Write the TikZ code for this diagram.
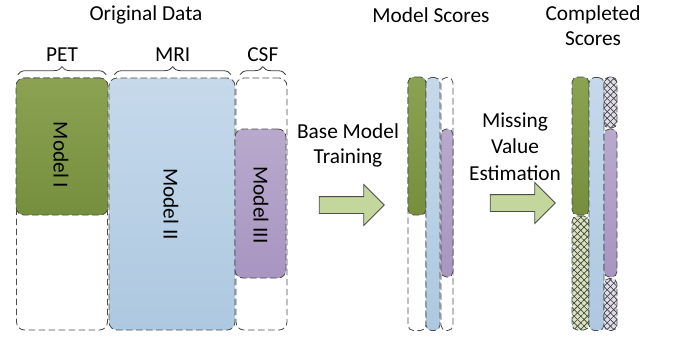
\documentclass[tikz,border=0pt]{standalone}
\usepackage{fontspec}
\setmainfont{Carlito}
\usepackage{tikz}
\usetikzlibrary{decorations.pathreplacing}
\usetikzlibrary{shapes.arrows}
\usetikzlibrary{patterns.meta}
\usetikzlibrary{positioning}

\definecolor{petgreen}{HTML}{8AA251}
\definecolor{petgreendk}{HTML}{768F3E}
\definecolor{mriblue}{HTML}{C6D9EB}
\definecolor{mribluedk}{HTML}{ADC8E0}
\definecolor{csfpurple}{HTML}{B8A9CC}
\definecolor{csfpurpledk}{HTML}{A895C1}
\definecolor{arrowgreen}{HTML}{C3D69B}
\definecolor{hatchgreen}{HTML}{D7E4BD}
\definecolor{hatchpurple}{HTML}{E2DDEB}

\begin{document}
\begin{tikzpicture}[
  x=0.75pt, y=-0.75pt,
  every node/.style={font=\fontsize{16}{19}\selectfont, text=black},
  box/.style={rectangle, rounded corners=6pt, inner sep=0pt, outer sep=0pt,
    draw=black!70, line width=0.6pt, dash pattern=on 5pt off 2.5pt},
  col/.style={box, rounded corners=4pt},
  green/.style={top color=petgreen, bottom color=petgreendk},
  blue/.style={top color=mriblue, bottom color=mribluedk},
  purple/.style={top color=csfpurple, bottom color=csfpurpledk},
  hatch/.style={preaction={fill=#1},
    pattern={Lines[angle=45,distance=3.5pt,line width=0.5pt]}, pattern color=black!75,
    postaction={pattern={Lines[angle=-45,distance=3.5pt,line width=0.5pt]}, pattern color=black!75}},
  blockarrow/.style={single arrow, draw=black!70, fill=arrowgreen, line width=0.6pt,
    inner sep=0pt, text height=12pt, text depth=0pt, minimum height=48.75pt,
    single arrow head extend=9pt},
  brace/.style={draw=black!75, line width=0.6pt, decorate, decoration={brace, amplitude=6pt}}
]
  \useasboundingbox (0,0) rectangle (673,336);

  % original data
  \node (orig) at (146,15) {Original Data};

  \node[box] (pet) at (62,204) [minimum width=68.25pt, minimum height=189pt] {};
  \node[box, green] (m1) at (62,146.5) [minimum width=69pt, minimum height=102.75pt] {};
  \node[rotate=-90] (m1txt) at (61,155) {Model I};

  \node[box] (csf) at (261.5,204) [minimum width=38.25pt, minimum height=189pt] {};
  \node[box, blue] (m2) at (172,204) [minimum width=94.5pt, minimum height=189pt] {};
  \node[rotate=-90] (m2txt) at (171,204) {Model II};
  \node[box, purple] (m3) at (260.5,203.5) [minimum width=38.25pt, minimum height=111.75pt] {};
  \node[rotate=-90] (m3txt) at (261,205) {Model III};

  \draw[brace] ([yshift=2.5pt,xshift=1pt]pet.north west) -- ([yshift=2.5pt,xshift=-1pt]pet.north east)
    node[midway, above=6pt] (petlbl) {PET};
  \draw[brace] ([yshift=2.5pt,xshift=4pt]m2.north west) -- ([yshift=2.5pt,xshift=-3pt]m2.north east)
    node[midway, above=6pt] (mrilbl) {MRI};
  \draw[brace] ([yshift=2.5pt,xshift=3pt]csf.north west) -- ([yshift=2.5pt,xshift=-1pt]csf.north east)
    node[midway, above=6pt] (csflbl) {CSF};

  % training step
  \node[align=center, font=\fontsize{16}{18.8}\selectfont] (train) at (348,145.5) {Base Model\\Training};
  \node[blockarrow] (arr1) at (347.5,205) {};

  % model scores
  \node (scores) at (431,15) {Model Scores};
  \node[col] (s1) at (417,204) [minimum width=13.5pt, minimum height=189.75pt] {};
  \node[col] (s3) at (447,204) [minimum width=9pt, minimum height=189.75pt] {};
  \node[col, green] (s1m) at (417,146) [minimum width=13.5pt, minimum height=103.5pt] {};
  \node[col, blue] (s2m) at (433,204) [minimum width=10.5pt, minimum height=189.75pt] {};
  \node[col, purple] (s3m) at (447,203) [minimum width=9pt, minimum height=111pt] {};

  % estimation step
  \node[align=center, font=\fontsize{16}{20}\selectfont] (estim) at (515,146.5) {Missing\\Value\\Estimation};
  \node[blockarrow] (arr2) at (518.5,203) {};

  % completed scores
  \node[align=center, font=\fontsize{16}{18.8}\selectfont] (compl) at (593,25.5) {Completed\\Scores};
  \node[col, green] (c1m) at (580.5,146) [minimum width=12.75pt, minimum height=103.5pt] {};
  \node[col, hatch=hatchgreen] (c1h) at (580.5,273) [minimum width=12.75pt, minimum height=85.5pt] {};
  \node[col, blue] (c2m) at (596.5,204) [minimum width=11.25pt, minimum height=189.75pt] {};
  \node[col, hatch=hatchpurple] (c3h) at (610.5,102.5) [minimum width=9.75pt, minimum height=38.25pt] {};
  \node[col, purple] (c3m) at (610.5,203) [minimum width=9.75pt, minimum height=111pt] {};
  \node[col, hatch=hatchpurple] (c3l) at (610.5,304.5) [minimum width=9.75pt, minimum height=39pt] {};
\end{tikzpicture}
\end{document}
